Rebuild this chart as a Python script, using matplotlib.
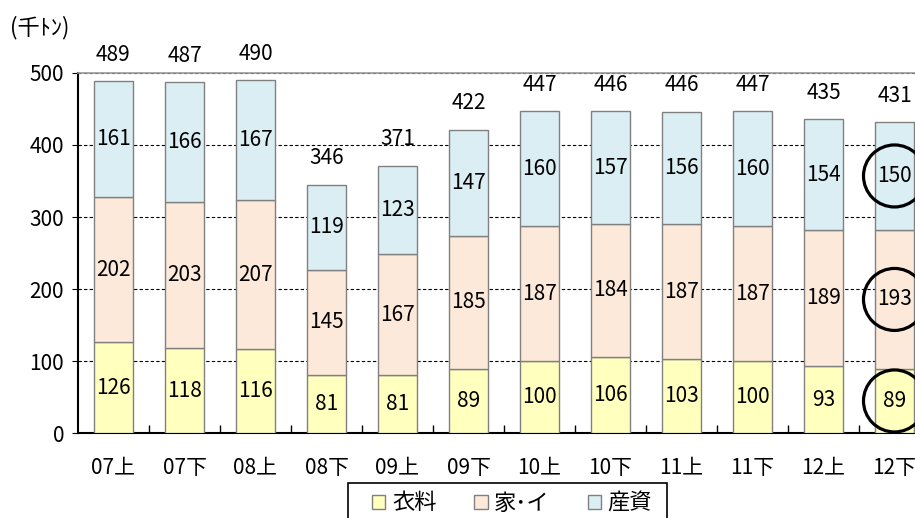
import matplotlib.pyplot as plt
import numpy as np
from matplotlib.patches import Patch, Ellipse, Rectangle

plt.rcParams['font.family'] = ['Noto Sans CJK JP', 'DejaVu Sans']

periods = ["07上", "07下", "08上", "08下", "09上", "09下",
           "10上", "10下", "11上", "11下", "12上", "12下"]
iryo = [126, 118, 116, 81, 81, 89, 100, 106, 103, 100, 93, 89]
kai = [202, 203, 207, 145, 167, 185, 187, 184, 187, 187, 189, 193]
sanshi = [161, 166, 167, 119, 123, 147, 160, 157, 156, 160, 154, 150]
totals = [489, 487, 490, 346, 371, 422, 447, 446, 446, 447, 435, 431]

names = ["衣料", "家･イ", "産資"]
colors = ["#FFFFBE", "#FDE9D9", "#DAEEF3"]

fig = plt.figure(figsize=(9.15, 5.18), dpi=100)
ax = fig.add_axes([78 / 915, 85 / 518, 852 / 915, 360 / 518])

x = np.arange(len(periods))
bottom = np.zeros(len(periods))
for vals, col in zip([iryo, kai, sanshi], colors):
    vals = np.array(vals)
    ax.bar(x, vals, 0.55, bottom=bottom, color=col, edgecolor="#808080",
           linewidth=1, zorder=3)
    for i in range(len(x)):
        ax.text(x[i], bottom[i] + vals[i] / 2, str(vals[i]), ha="center",
                va="center", fontsize=15, zorder=4)
    bottom = bottom + vals

for i in range(len(x)):
    ax.annotate(str(totals[i]), (x[i], bottom[i]), xytext=(0, 19),
                textcoords="offset points", ha="center", va="center",
                fontsize=15)

# circles on the last period
last = len(x) - 1
mids = [iryo[last] / 2, iryo[last] + kai[last] / 2,
        iryo[last] + kai[last] + sanshi[last] / 2]
for m in mids:
    ax.add_patch(Ellipse((x[last], m), 62 / 71, 62 / 0.72, fill=False,
                         edgecolor="black", linewidth=2.3, zorder=5,
                         clip_on=False))

ax.set_xlim(-0.5, len(x) - 0.5)
ax.set_ylim(0, 500)
ax.set_yticks([0, 100, 200, 300, 400, 500])
ax.yaxis.grid(True, linestyle=(0, (3, 2)), color="black", linewidth=0.8,
              zorder=0)
ax.set_xticks(x)
ax.set_xticklabels(periods)
ax.set_xticks(np.arange(0.5, len(x) - 0.5, 1), minor=True)
ax.tick_params(axis="x", which="major", length=0, pad=17, labelsize=15)
ax.tick_params(axis="x", which="minor", direction="in", length=6, width=1)
ax.tick_params(axis="y", length=4, direction="out", pad=6, labelsize=15)

ax.spines["right"].set_visible(False)
ax.spines["top"].set_color("#999999")
ax.spines["top"].set_linewidth(1.2)
ax.spines["left"].set_linewidth(1.5)
ax.spines["bottom"].set_linewidth(1.5)

fig.text(10 / 915, 1 - 28 / 518, "(千ﾄﾝ)", fontsize=16, va="center")

# legend frame (runs off the bottom edge, as in the original)
fig.patches.append(Rectangle((348 / 915, -0.05), (667 - 348) / 915,
                             0.05 + 1 - 483 / 518, transform=fig.transFigure,
                             fill=False, edgecolor="black", linewidth=1.2))

handles = [Patch(facecolor=c, edgecolor="#808080", label=n)
           for c, n in zip(colors, names)]
leg = fig.legend(handles=handles, loc="center",
                 bbox_to_anchor=(512 / 915, 1 - 503 / 518), ncol=3,
                 fontsize=16, handlelength=0.6, handleheight=0.6,
                 handletextpad=0.3, columnspacing=1.7, frameon=False,
                 borderpad=0, borderaxespad=0)

fig.savefig("out.png", dpi=100)
